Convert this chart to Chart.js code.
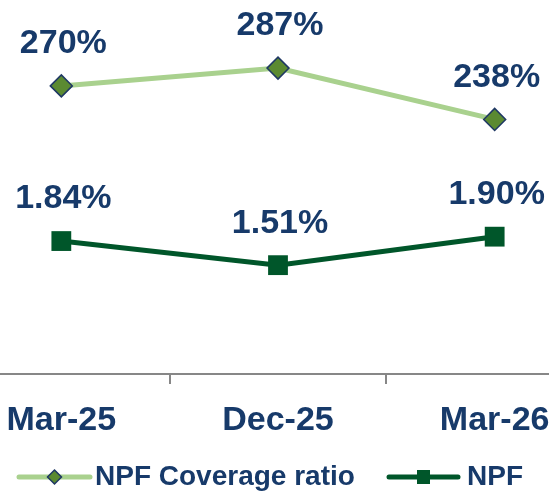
<!DOCTYPE html>
<html>
<head>
<meta charset="utf-8">
<script src="https://cdn.jsdelivr.net/npm/chart.js@4/dist/chart.umd.min.js"></script>
<style>
    html, body { margin: 0; padding: 0; background: #fff; overflow: hidden; }
    body { width: 549px; height: 493px; position: relative; }
    #wrap { position: absolute; left: -47px; top: 0; width: 650px; height: 493px; }
</style>
</head>
<body>
<div id="wrap"><canvas id="npfChart" width="650" height="493"></canvas></div>
<script>
// =======================================================
// DATA
// =======================================================
const categories = ['Mar-25', 'Dec-25', 'Mar-26'];
const coverageRatio = [270, 287, 238];
const npfRatio = [1.84, 1.51, 1.90];
const seriesNames = ['NPF Coverage ratio', 'NPF'];

const FONT = '"Liberation Sans", Arial, sans-serif';
const NAVY = '#173a6a';
const LIGHT_GREEN = '#a9d18e';
const OLIVE = '#5b8a31';
const DARK_GREEN = '#00562a';

function initNpfChart() {
    const canvas = document.getElementById('npfChart');
    if (!canvas) return;

    // label angka di atas tiap titik
    const valueLabels = {
        id: 'valueLabels',
        afterDatasetsDraw(chart) {
            const ctx = chart.ctx;
            ctx.save();
            ctx.font = 'bold 34px ' + FONT;
            ctx.fillStyle = NAVY;
            ctx.textAlign = 'center';
            ctx.textBaseline = 'middle';
            chart.data.datasets.forEach((ds, i) => {
                const meta = chart.getDatasetMeta(i);
                meta.data.forEach((pt, j) => {
                    const v = ds.data[j];
                    const text = i === 0 ? v + '%' : v.toFixed(2) + '%';
                    ctx.fillText(text, pt.x + 2, pt.y - 42);
                });
            });
            ctx.restore();
        }
    };

    // legend manual: garis + marker + teks
    const lineLegend = {
        id: 'lineLegend',
        afterDraw(chart) {
            const ctx = chart.ctx;
            const y = 477;
            const items = [
                { x0: 66, x1: 137, color: LIGHT_GREEN, marker: 'diamond', text: seriesNames[0], tx: 142 },
                { x0: 436, x1: 505, color: DARK_GREEN, marker: 'square', text: seriesNames[1], tx: 514 }
            ];
            ctx.save();
            items.forEach(it => {
                ctx.strokeStyle = it.color;
                ctx.lineWidth = 5;
                ctx.lineCap = 'round';
                ctx.beginPath();
                ctx.moveTo(it.x0, y);
                ctx.lineTo(it.x1, y);
                ctx.stroke();

                const cx = (it.x0 + it.x1) / 2;
                ctx.beginPath();
                if (it.marker === 'diamond') {
                    ctx.moveTo(cx, y - 7);
                    ctx.lineTo(cx + 7, y);
                    ctx.lineTo(cx, y + 7);
                    ctx.lineTo(cx - 7, y);
                    ctx.closePath();
                    ctx.fillStyle = OLIVE;
                    ctx.fill();
                    ctx.lineWidth = 1.5;
                    ctx.strokeStyle = '#1f3864';
                    ctx.stroke();
                } else {
                    ctx.fillStyle = DARK_GREEN;
                    ctx.fillRect(cx - 6.5, y - 7, 13, 14);
                }

                ctx.font = 'bold 28px ' + FONT;
                ctx.fillStyle = NAVY;
                ctx.textAlign = 'left';
                ctx.textBaseline = 'middle';
                ctx.fillText(it.text, it.tx, y);
            });
            ctx.restore();
        }
    };

    new Chart(canvas.getContext('2d'), {
        type: 'line',
        data: {
            labels: categories,
            datasets: [
                {
                    label: seriesNames[0],
                    data: coverageRatio,
                    yAxisID: 'y',
                    borderColor: LIGHT_GREEN,
                    borderWidth: 5,
                    pointStyle: 'rectRot',
                    pointRadius: 11,
                    pointHoverRadius: 11,
                    pointBackgroundColor: OLIVE,
                    pointBorderColor: '#1f3864',
                    pointBorderWidth: 1.5,
                    tension: 0,
                    clip: false
                },
                {
                    label: seriesNames[1],
                    data: npfRatio,
                    yAxisID: 'y1',
                    borderColor: DARK_GREEN,
                    borderWidth: 5,
                    pointStyle: 'rect',
                    pointRadius: 14,
                    pointHoverRadius: 14,
                    pointBackgroundColor: DARK_GREEN,
                    pointBorderColor: DARK_GREEN,
                    pointBorderWidth: 0,
                    tension: 0,
                    clip: false
                }
            ]
        },
        options: {
            responsive: false,
            animation: false,
            layout: { autoPadding: false, padding: { top: 0, left: 0, right: 0, bottom: 35 } },
            scales: {
                x: {
                    offset: true,
                    border: { display: true, color: '#878787', width: 2 },
                    grid: { display: true, offset: true, drawOnChartArea: false, color: '#878787', lineWidth: 2, tickLength: 10 },
                    ticks: {
                        color: NAVY,
                        padding: 20,
                        font: { family: FONT, size: 34, weight: 'bold', lineHeight: 1 }
                    }
                },
                y: { display: false, min: -5, max: 352 },
                y1: { display: false, min: 0.02, max: 5.14 }
            },
            plugins: {
                legend: { display: false },
                tooltip: { enabled: false }
            }
        },
        plugins: [valueLabels, lineLegend]
    });
}

initNpfChart();
</script>
</body>
</html>
